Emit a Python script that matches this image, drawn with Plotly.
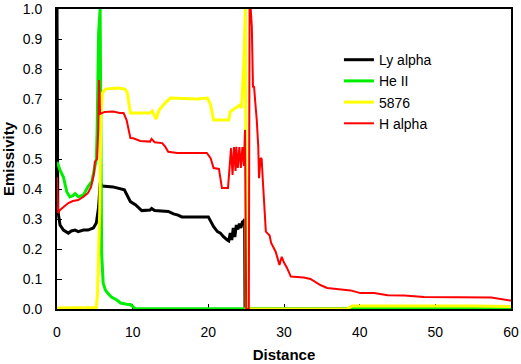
import plotly.graph_objects as go

# Ly alpha
ly_x = [0, 0.1, 0.4, 0.85, 1.5, 1.9, 2.4, 2.8, 3.5, 4.1, 4.8, 5.2, 5.5, 5.7, 6.0,
        7.4, 8.9, 9.7, 10.4, 11.2, 12.3, 12.5, 12.9, 14.7, 15.4, 16.0, 16.5, 20.0,
        20.7, 21.2, 21.6, 22.0, 22.5, 22.7, 22.9, 23.1, 23.3, 23.5, 23.7, 23.9,
        24.1, 24.3, 24.5, 24.7, 24.8, 24.85, 60]
ly_y = [1.0, 0.33, 0.28, 0.263, 0.253, 0.26, 0.263, 0.258, 0.263, 0.263, 0.27,
        0.287, 0.34, 0.42, 0.41, 0.407, 0.397, 0.358, 0.347, 0.328, 0.33, 0.335,
        0.328, 0.325, 0.317, 0.313, 0.307, 0.307, 0.274, 0.258, 0.253, 0.241,
        0.23, 0.227, 0.253, 0.23, 0.27, 0.24, 0.28, 0.265, 0.285, 0.27, 0.29,
        0.293, 0.30, 0.0, 0.0]

# He II
he_x = [0, 0.4, 0.85, 1.3, 1.7, 2.1, 2.4, 2.8, 3.5, 4.1, 4.6, 4.9, 5.2, 5.3, 5.5,
        5.7, 5.9, 6.1, 6.4, 6.8, 7.2, 7.9, 8.4, 9.2, 9.7, 10.3, 38.0, 39.0, 60]
he_y = [0.49, 0.463, 0.44, 0.39, 0.374, 0.378, 0.385, 0.374, 0.38, 0.408, 0.424,
        0.463, 0.5, 0.59, 0.92, 1.0, 0.187, 0.087, 0.063, 0.05, 0.04, 0.03, 0.02,
        0.016, 0.015, 0.002, 0.0, 0.004, 0.004]

# 5876
y5876_x = [0, 5.2, 5.35, 5.5, 5.65, 5.8, 6.0, 6.4, 8.0, 9.0, 9.3, 9.7, 12.3, 12.6,
           13.1, 13.5, 13.9, 14.3, 15.0, 18.5, 19.9, 20.3, 20.7, 22.7, 22.9, 23.2,
           23.8, 24.2, 24.4, 24.7, 24.9, 25.0, 38.3, 39.0, 55, 60]
y5876_y = [0.003, 0.005, 0.05, 0.16, 0.33, 0.65, 0.72, 0.733, 0.737, 0.733, 0.72,
           0.653, 0.653, 0.66, 0.633, 0.663, 0.677, 0.687, 0.703, 0.70, 0.703,
           0.68, 0.63, 0.63, 0.658, 0.663, 0.673, 0.68, 0.67, 0.82, 1.0, 0.0, 0.0,
           0.01, 0.01, 0.008]

# H alpha
ha_x = [0, 0.15, 0.4, 0.85, 1.5, 2.1, 2.8, 3.5, 4.1, 4.5, 4.9, 5.0, 5.3, 5.45,
        5.55, 5.7, 6.3, 7.4, 8.3, 8.8, 9.2, 9.7, 10.1, 11.0, 12.3, 12.5, 12.9,
        13.9, 14.3, 14.7, 15.9, 19.8, 20.3, 20.7, 21.4, 21.8, 22.6, 23.0, 23.2,
        23.4, 23.6, 23.7, 23.9, 24.1, 24.3, 24.5, 24.7, 24.85, 25.0, 25.35, 25.45,
        25.6, 25.75, 25.9, 26.05, 26.2, 26.4, 26.6, 26.7, 26.9, 27.05, 27.2, 27.4,
        27.6, 27.8, 28.1, 28.3, 28.6, 28.9, 29.4, 29.7, 30.0, 30.4, 30.9, 32.6,
        33.5, 34.8, 35.7, 37.5, 38.8, 40.1, 41.9, 43.7, 45.9, 48.5, 54.3, 57.4, 60]
ha_y = [0.44, 0.32, 0.33, 0.34, 0.353, 0.36, 0.363, 0.374, 0.387, 0.407, 0.453,
        0.49, 0.50, 0.6, 0.763, 0.65, 0.657, 0.658, 0.653, 0.653, 0.63, 0.57,
        0.569, 0.56, 0.558, 0.567, 0.556, 0.553, 0.541, 0.524, 0.52, 0.52, 0.503,
        0.47, 0.467, 0.403, 0.403, 0.536, 0.447, 0.54, 0.46, 0.541, 0.47, 0.54,
        0.47, 0.54, 0.477, 0.597, 0.0, 0.0, 1.0, 1.0, 0.94, 0.741, 0.74, 0.69,
        0.63, 0.54, 0.436, 0.503, 0.50, 0.43, 0.33, 0.258, 0.253, 0.245, 0.22,
        0.203, 0.191, 0.147, 0.174, 0.155, 0.137, 0.108, 0.105, 0.10, 0.08, 0.07,
        0.066, 0.062, 0.053, 0.053, 0.046, 0.045, 0.04, 0.04, 0.038, 0.028]

FONT = "Liberation Sans, Arial, sans-serif"

fig = go.Figure()
fig.add_trace(go.Scatter(x=ly_x, y=ly_y, mode="lines", name="Ly alpha",
                         line=dict(color="#000000", width=3)))
fig.add_trace(go.Scatter(x=he_x, y=he_y, mode="lines", name="He II",
                         line=dict(color="#00ee00", width=3)))
fig.add_trace(go.Scatter(x=y5876_x, y=y5876_y, mode="lines", name="5876",
                         line=dict(color="#ffff00", width=3)))
fig.add_trace(go.Scatter(x=ha_x, y=ha_y, mode="lines", name="H alpha",
                         line=dict(color="#ff0000", width=2)))

fig.update_layout(
    width=521, height=364,
    margin=dict(l=57, r=10, t=9, b=55),
    paper_bgcolor="white", plot_bgcolor="white",
    font=dict(family=FONT, size=14, color="black"),
    showlegend=True,
    legend=dict(x=0.621, y=0.883, xanchor="left", yanchor="top",
                bgcolor="rgba(0,0,0,0)", font=dict(size=14), tracegroupgap=0),
    xaxis=dict(range=[0, 60], dtick=10, ticks="inside", ticklen=5, tickwidth=1,
               tickcolor="black", showline=True, linewidth=2, linecolor="black",
               mirror=True, showgrid=False, zeroline=False, layer="below traces",
               ticklabelstandoff=9, automargin=False,
               title=dict(text="<b>Distance</b>", font=dict(size=15), standoff=11)),
    yaxis=dict(range=[0, 1], dtick=0.1, tickformat=".1f", ticks="inside",
               ticklen=5, tickwidth=1, tickcolor="black", showline=True,
               linewidth=2, linecolor="black", mirror=True, showgrid=False,
               zeroline=False, layer="below traces", ticklabelstandoff=10,
               automargin=False,
               title=dict(text="<b>Emissivity</b>", font=dict(size=15), standoff=11)),
)

# drop the default 8px page margin so the figure fills the window
fig.write_html("out.html", config={"displayModeBar": False},
               post_script="document.body.style.margin = '0';")
